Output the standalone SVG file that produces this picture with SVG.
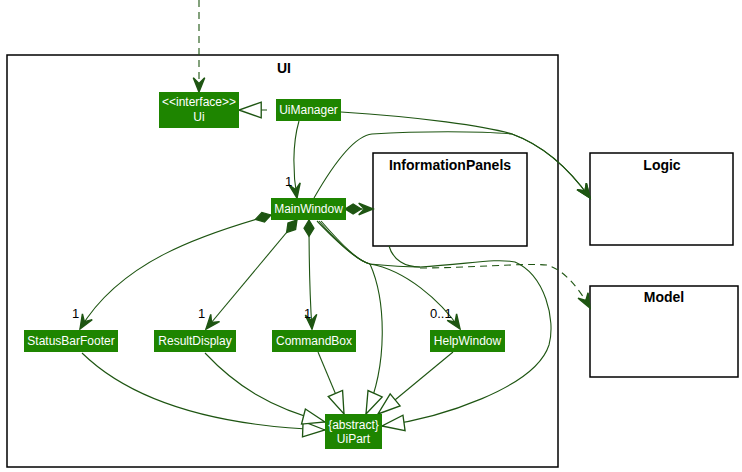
<svg xmlns="http://www.w3.org/2000/svg" width="742" height="472" viewBox="0 0 742 472">
<defs>
<style>
.node rect{fill:#1E8500;}
.node text{fill:#fff;font-family:"Liberation Sans",Arial,sans-serif;font-size:12px;text-anchor:middle;}
.pkg rect{fill:#fff;stroke:#000;stroke-width:1.5;}
.pkg text{fill:#000;font-family:"Liberation Sans",Arial,sans-serif;font-size:14px;font-weight:bold;text-anchor:middle;}
.edge{fill:none;stroke:#1E5512;stroke-width:1.1;}
.dash{stroke-dasharray:7,5;}
.lbl{fill:#000;font-family:"Liberation Sans",Arial,sans-serif;font-size:13px;}
</style>
<marker id="arr" markerUnits="userSpaceOnUse" markerWidth="20" markerHeight="20" refX="0" refY="0" orient="auto" overflow="visible" viewBox="-12 -6 14 12">
<path d="M0,0 L-10,-4 L-6,0 L-10,4 Z" fill="#1E5512" stroke="#1E5512" stroke-width="1"/>
</marker>
<marker id="tri" markerUnits="userSpaceOnUse" markerWidth="30" markerHeight="20" refX="0" refY="0" orient="auto" overflow="visible" viewBox="-22 -9 24 18">
<path d="M0,0 L-20,-7 L-20,7 Z" fill="#fff" stroke="#1E5512" stroke-width="1.2"/>
</marker>
<marker id="dia" markerUnits="userSpaceOnUse" markerWidth="20" markerHeight="20" refX="0" refY="0" orient="auto" overflow="visible" viewBox="-2 -6 16 12">
<path d="M0,0 L6.5,-4 L13,0 L6.5,4 Z" fill="#1E5512" stroke="#1E5512" stroke-width="1"/>
</marker>
</defs>
<rect width="742" height="472" fill="#fff"/>

<g id="pkg-UI" class="pkg">
<rect x="7" y="55" width="551" height="412"/>
<text x="284" y="73">UI</text>
</g>
<g id="pkg-InformationPanels" class="pkg">
<rect x="373" y="153" width="154" height="93"/>
<text x="450" y="170">InformationPanels</text>
</g>
<g id="pkg-Logic" class="pkg">
<rect x="590" y="153" width="143" height="92"/>
<text x="662" y="170">Logic</text>
</g>
<g id="pkg-Model" class="pkg">
<rect x="590" y="286" width="148" height="91"/>
<text x="664" y="302">Model</text>
</g>

<g id="connectors">
<path class="edge dash" d="M199,0 L199,92" marker-end="url(#arr)"/>
<path class="edge dash" d="M267,110 L239,110" marker-end="url(#tri)"/>
<path class="edge" d="M299,121 C292,145 293,175 297,198" marker-end="url(#arr)"/>
<path class="edge" d="M341,112 C420,117 485,126 512,134 C545,146 570,170 590,198" marker-end="url(#arr)"/>
<path class="edge" d="M314,198 C330,170 352,136 372,134 C420,131 480,131 512,134 C545,146 570,170 590,198" marker-end="url(#arr)"/>
<path class="edge" d="M345,209 L373,209" marker-start="url(#dia)" marker-end="url(#arr)"/>
<path class="edge" d="M271,215 C200,235 120,262 80,329" marker-start="url(#dia)" marker-end="url(#arr)"/>
<path class="edge" d="M297,220 L206,329" marker-start="url(#dia)" marker-end="url(#arr)"/>
<path class="edge" d="M309,220 C309,260 310,300 312,329" marker-start="url(#dia)" marker-end="url(#arr)"/>
<path class="edge" d="M317,221 C340,245 358,261 370,264 C405,270 440,300 460,329" marker-end="url(#arr)"/>
<path class="edge" d="M319,221 C340,245 358,261 370,264 C386,300 388,365 366,414" marker-end="url(#tri)"/>
<path class="edge" d="M321,221 C342,245 358,261 370,264 C390,266 405,267 420,267"/>
<path class="edge" d="M389,246 C393,260 405,267 420,267 C470,264 495,258 515,262 C545,275 556,320 549,345 C535,388 440,418 382,426" marker-end="url(#tri)"/>
<path class="edge dash" d="M420,268 C470,268 520,263 547,265 C565,270 580,290 590,308" marker-end="url(#arr)"/>
<path class="edge" d="M82,353 C120,390 190,425 325,430" marker-end="url(#tri)"/>
<path class="edge" d="M205,353 C235,385 270,408 325,422" marker-end="url(#tri)"/>
<path class="edge" d="M318,352 L344,414" marker-end="url(#tri)"/>
<path class="edge" d="M453,352 L378,414" marker-end="url(#tri)"/>
</g>

<g id="labels">
<text class="lbl" x="285" y="186">1</text>
<text class="lbl" x="72" y="318">1</text>
<text class="lbl" x="198" y="318">1</text>
<text class="lbl" x="304" y="318">1</text>
<text class="lbl" x="430" y="318">0..1</text>
</g>

<g id="node-Ui" class="node">
<rect x="159" y="92" width="80" height="36"/>
<text x="199" y="106">&lt;&lt;interface&gt;&gt;</text>
<text x="199" y="121">Ui</text>
</g>
<g id="node-UiManager" class="node">
<rect x="276" y="99" width="65" height="22"/>
<text x="308.5" y="114">UiManager</text>
</g>
<g id="node-MainWindow" class="node">
<rect x="271" y="198" width="75" height="22"/>
<text x="308.5" y="213">MainWindow</text>
</g>
<g id="node-StatusBarFooter" class="node">
<rect x="24" y="330" width="94" height="22"/>
<text x="71" y="345">StatusBarFooter</text>
</g>
<g id="node-ResultDisplay" class="node">
<rect x="154" y="330" width="82" height="22"/>
<text x="195" y="345">ResultDisplay</text>
</g>
<g id="node-CommandBox" class="node">
<rect x="272" y="330" width="84" height="22"/>
<text x="314" y="345">CommandBox</text>
</g>
<g id="node-HelpWindow" class="node">
<rect x="430" y="330" width="75" height="22"/>
<text x="467.5" y="345">HelpWindow</text>
</g>
<g id="node-UiPart" class="node">
<rect x="325" y="414" width="57" height="35"/>
<text x="353.5" y="429">{abstract}</text>
<text x="353.5" y="443">UiPart</text>
</g>
</svg>
